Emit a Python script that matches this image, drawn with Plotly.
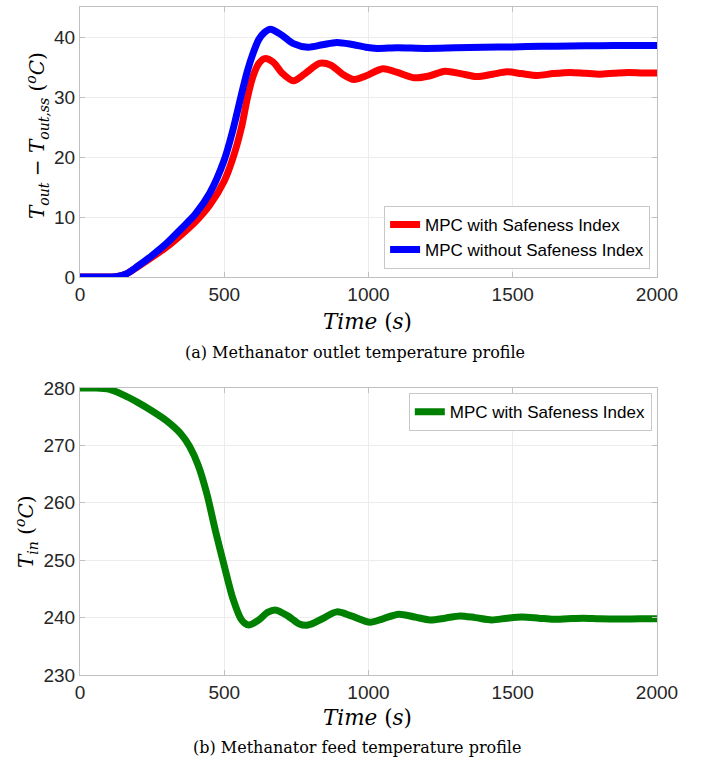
import plotly.graph_objects as go

# ---- data ----
t_blue = [0, 50, 100, 130, 160, 200, 250, 300, 350, 400, 450, 500, 530, 560, 580, 600, 620, 640, 660,
          700, 740, 790, 840, 890, 940, 990, 1030, 1100, 1200, 1300, 1400, 1500, 1600, 1700, 1800, 1900, 2000]
v_blue = [0, 0, 0, 0.1, 0.5, 1.8, 3.6, 5.6, 8.0, 10.5, 14.0, 19.5, 24.5, 30.5, 34.3, 37.3, 39.6, 40.8, 41.3,
          40.3, 38.9, 38.3, 38.7, 39.1, 38.8, 38.3, 38.1, 38.2, 38.1, 38.2, 38.3, 38.35, 38.45, 38.5, 38.55, 38.6, 38.6]

t_red = [0, 100, 130, 160, 200, 250, 300, 350, 400, 450, 500, 530, 560, 580, 600, 620, 640, 670, 700, 740,
         780, 830, 870, 910, 950, 990, 1050, 1100, 1160, 1210, 1265, 1320, 1375, 1430, 1480, 1530, 1585,
         1640, 1700, 1750, 1800, 1850, 1900, 1950, 2000]
v_red = [0, 0, 0.1, 0.5, 1.7, 3.3, 5.0, 7.0, 9.2, 12.0, 16.0, 19.8, 25.0, 29.8, 33.5, 35.6, 36.4, 35.8, 34.0, 32.7,
         33.9, 35.6, 35.3, 33.8, 32.9, 33.5, 34.7, 34.1, 33.2, 33.5, 34.3, 33.9, 33.4, 33.8, 34.2, 33.9, 33.6,
         33.9, 34.1, 33.95, 33.8, 33.95, 34.1, 34.0, 34.0]

t_green = [0, 50, 100, 150, 200, 250, 300, 350, 380, 410, 440, 470, 500, 530, 560, 585, 620, 650, 680, 720,
           760, 790, 840, 890, 940, 1005, 1050, 1105, 1160, 1213, 1265, 1317, 1370, 1427, 1480, 1532, 1590,
           1640, 1690, 1745, 1800, 1870, 1940, 2000]
v_green = [280, 280, 279.8, 278.8, 277.5, 276, 274.3, 272, 269.8, 266.5, 261.5, 255, 249, 243.3, 239.6, 238.7,
           239.6, 240.9, 241.3, 240.3, 238.9, 238.7, 239.8, 241, 240.3, 239.2, 239.8, 240.6, 240.1, 239.6, 239.9,
           240.3, 240, 239.6, 239.9, 240.1, 239.9, 239.7, 239.8, 239.9, 239.8, 239.75, 239.8, 239.8]

top_yticks = [0, 10, 20, 30, 40]
bot_yticks = [230, 240, 250, 260, 270, 280]
xticks = [0, 500, 1000, 1500, 2000]

TICKFONT = dict(family="Liberation Sans, Arial, sans-serif", size=19, color="#262626")
SERIF = "DejaVu Serif, Liberation Serif, serif"

fig = go.Figure()
fig.add_trace(go.Scatter(x=t_red, y=v_red, mode="lines", name="MPC with Safeness Index",
                         line=dict(color="#ff0000", width=7, shape="spline", smoothing=0.8),
                         xaxis="x", yaxis="y", legend="legend"))
fig.add_trace(go.Scatter(x=t_blue, y=v_blue, mode="lines", name="MPC without Safeness Index",
                         line=dict(color="#0000ff", width=7, shape="spline", smoothing=0.8),
                         xaxis="x", yaxis="y", legend="legend"))
fig.add_trace(go.Scatter(x=t_green, y=v_green, mode="lines", name="MPC with Safeness Index",
                         line=dict(color="#008000", width=7, shape="spline", smoothing=0.8),
                         xaxis="x2", yaxis="y2", legend="legend2"))

axis_common = dict(showline=True, linecolor="#c0c0c0", linewidth=1, mirror="ticks",
                   ticks="inside", ticklen=5, tickcolor="#c0c0c0", automargin=False,
                   showgrid=True, gridcolor="#ececec", gridwidth=1, zeroline=False,
                   tickfont=TICKFONT)

fig.update_layout(
    width=708, height=765,
    margin=dict(l=80, r=51, t=7, b=90, autoexpand=False),
    plot_bgcolor="white", paper_bgcolor="white",
    showlegend=True,
    xaxis=dict(domain=[0, 1], range=[0, 2000], tickvals=xticks, anchor="y", **axis_common),
    yaxis=dict(domain=[0.5958, 1], range=[0, 45], tickvals=top_yticks, anchor="x", **axis_common),
    xaxis2=dict(domain=[0, 1], range=[0, 2000], tickvals=xticks, anchor="y2", **axis_common),
    yaxis2=dict(domain=[0, 0.4296], range=[230, 280], tickvals=bot_yticks, anchor="x2", **axis_common),
    legend=dict(x=0.988, xanchor="right", y=0.608, yanchor="bottom",
                bgcolor="white", bordercolor="#c8c8c8", borderwidth=1,
                font=dict(family="Liberation Sans, Arial, sans-serif", size=17, color="#000000"),
                tracegroupgap=0, itemwidth=30),
    legend2=dict(x=0.991, xanchor="right", y=0.422, yanchor="top",
                 bgcolor="white", bordercolor="#c8c8c8", borderwidth=1,
                 font=dict(family="Liberation Sans, Arial, sans-serif", size=17, color="#000000"),
                 itemwidth=30),
)

ann = []
# y-axis titles
ann.append(dict(text="<i>T<sub>out</sub></i> − <i>T<sub>out,ss</sub></i> (<sup><i>o</i></sup><i>C</i>)",
                xref="paper", yref="paper", x=(37 - 80) / 577, y=(675 - 136) / 668,
                xanchor="center", yanchor="middle", textangle=-90, showarrow=False,
                font=dict(family=SERIF, size=20, color="#000000")))
ann.append(dict(text="<i>T<sub>in</sub></i> (<sup><i>o</i></sup><i>C</i>)",
                xref="paper", yref="paper", x=(26 - 80) / 577, y=(675 - 532) / 668,
                xanchor="center", yanchor="middle", textangle=-90, showarrow=False,
                font=dict(family=SERIF, size=20, color="#000000")))
# x-axis titles
for py in (321, 717):
    ann.append(dict(text="<i>Time</i> (<i>s</i>)", xref="paper", yref="paper",
                    x=(367 - 80) / 577, y=(675 - py) / 668, xanchor="center", yanchor="middle", showarrow=False,
                    font=dict(family=SERIF, size=21.5, color="#000000")))
# captions
ann.append(dict(text="(a) Methanator outlet temperature profile", xref="paper", yref="paper",
                x=(355 - 80) / 577, y=(675 - 352) / 668, xanchor="center", yanchor="middle",
                showarrow=False, font=dict(family=SERIF, size=16, color="#000000")))
ann.append(dict(text="(b) Methanator feed temperature profile", xref="paper", yref="paper",
                x=(357 - 80) / 577, y=(675 - 747) / 668, xanchor="center", yanchor="middle",
                showarrow=False, font=dict(family=SERIF, size=16, color="#000000")))
fig.update_layout(annotations=ann)

fig.write_html("out.html")
